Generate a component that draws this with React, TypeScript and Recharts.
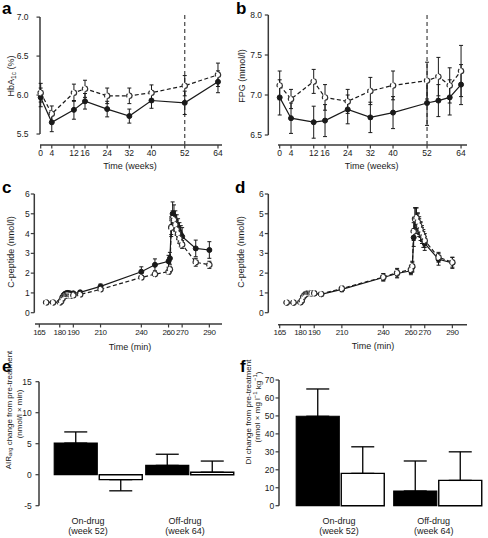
import React from "react";
import {
  LineChart,
  Line,
  BarChart,
  Bar,
  XAxis,
  YAxis,
  ErrorBar,
  ReferenceLine,
} from "recharts";

const FONT = "'Liberation Sans', Arial, Helvetica, sans-serif";
const INK = "#1a1a1a";
const AXIS = "#3a3a3a";

// a: HbA1c over 64 weeks
const weeksA = [0, 4, 12, 16, 24, 32, 40, 52, 64];
const hbaDrug = [5.97, 5.65, 5.81, 5.92, 5.82, 5.73, 5.93, 5.9, 6.17];
const hbaDrugErr = [0.12, 0.12, 0.12, 0.1, 0.1, 0.09, 0.1, 0.15, 0.14];
const hbaPlacebo = [6.03, 5.76, 6.03, 6.08, 5.99, 5.99, 6.03, 6.12, 6.26];
const hbaPlaceboErr = [0.12, 0.1, 0.11, 0.11, 0.1, 0.1, 0.1, 0.13, 0.15];

// b: fasting plasma glucose
const weeksB = [0, 4, 12, 16, 24, 32, 40, 52, 56, 60, 64];
const fpgDrug = [6.97, 6.71, 6.66, 6.68, 6.82, 6.72, 6.78, 6.9, 6.93, 6.97, 7.13];
const fpgDrugErr = [0.22, 0.19, 0.2, 0.2, 0.18, 0.19, 0.2, 0.28, 0.2, 0.22, 0.25];
const fpgPlacebo = [7.12, 6.95, 7.17, 6.97, 6.92, 7.05, 7.12, 7.18, 7.23, 7.12, 7.3];
const fpgPlaceboErr = [0.18, 0.12, 0.15, 0.16, 0.15, 0.17, 0.18, 0.23, 0.24, 0.22, 0.32];

// c, d: C-peptide during the clamp / arginine test
const minutes = [
  170, 175, 180, 181, 182, 183, 184, 185, 186, 187, 188, 190, 195, 210, 240, 250,
  260, 261, 262, 263, 264, 265, 266, 267, 268, 269, 270, 280, 290,
];
const cpepWk52Drug = [
  0.52, 0.52, 0.53, 0.62, 0.8, 0.9, 0.96, 0.99, 1.0, 0.98, 0.97, 0.98, 1.03, 1.33, 2.07, 2.42,
  2.6, 2.75, 4.35, 5.0, 4.9, 4.65, 4.45, 4.3, 4.1, 3.95, 3.85, 3.25, 3.17,
];
const cpepWk52DrugErr = [
  0.04, 0.04, 0.04, 0.05, 0.06, 0.07, 0.07, 0.07, 0.07, 0.07, 0.07, 0.07, 0.08, 0.12, 0.25, 0.3,
  0.3, 0.3, 0.5, 0.6, 0.55, 0.5, 0.5, 0.45, 0.45, 0.45, 0.45, 0.42, 0.42,
];
const cpepWk52Placebo = [
  0.52, 0.52, 0.52, 0.58, 0.72, 0.82, 0.86, 0.88, 0.88, 0.87, 0.86, 0.88, 0.92, 1.18, 1.78, 1.95,
  2.07, 2.2, 4.3, 4.75, 4.7, 4.45, 4.2, 4.0, 3.75, 3.55, 3.45, 2.55, 2.42,
];
const cpepWk52PlaceboErr = [
  0.03, 0.03, 0.03, 0.04, 0.05, 0.05, 0.05, 0.05, 0.05, 0.05, 0.05, 0.05, 0.06, 0.08, 0.1, 0.12,
  0.12, 0.15, 0.35, 0.4, 0.4, 0.35, 0.3, 0.3, 0.25, 0.22, 0.2, 0.2, 0.18,
];
const cpepWk64Drug = [
  0.5, 0.5, 0.52, 0.6, 0.78, 0.88, 0.95, 0.98, 0.99, 0.98, 0.97, 0.97, 0.93, 1.18, 1.78, 1.98,
  2.12, 2.3, 3.8, 4.7, 4.75, 4.5, 4.3, 4.1, 3.9, 3.7, 3.5, 2.7, 2.52,
];
const cpepWk64DrugErr = [
  0.04, 0.04, 0.04, 0.05, 0.06, 0.06, 0.06, 0.06, 0.06, 0.06, 0.06, 0.06, 0.08, 0.12, 0.18, 0.22,
  0.2, 0.25, 0.45, 0.6, 0.55, 0.5, 0.45, 0.45, 0.4, 0.4, 0.35, 0.3, 0.28,
];
const cpepWk64Placebo = [
  0.52, 0.52, 0.53, 0.62, 0.8, 0.9, 0.96, 0.99, 1.0, 0.99, 0.98, 0.98, 0.95, 1.22, 1.8, 2.02,
  2.18, 2.35, 4.1, 4.75, 4.8, 4.6, 4.4, 4.2, 4.0, 3.85, 3.65, 2.8, 2.55,
];
const cpepWk64PlaceboErr = [
  0.04, 0.04, 0.04, 0.05, 0.06, 0.06, 0.06, 0.06, 0.06, 0.06, 0.06, 0.06, 0.08, 0.12, 0.18, 0.22,
  0.2, 0.25, 0.45, 0.55, 0.5, 0.45, 0.45, 0.4, 0.4, 0.35, 0.35, 0.25, 0.25,
];
const minuteTicks = [165, 180, 190, 210, 240, 260, 270, 290];

// e, f: change from pre-treatment
const groups = ["On-drug", "Off-drug"];
const groupWeeks = ["(week 52)", "(week 64)"];
const airDrug = [5.1, 1.5];
const airDrugErr = [1.8, 1.8];
const airPlacebo = [-0.8, 0.4];
const airPlaceboErr = [1.8, 1.8];
const diDrug = [49.8, 8.2];
const diDrugErr = [15.2, 16.7];
const diPlacebo = [18.0, 14.1];
const diPlaceboErr = [14.8, 15.9];

type Row = { t: number; drug: number; drugErr: number; placebo: number; placeboErr: number };

function buildRows(ts: number[], d: number[], de: number[], p: number[], pe: number[]): Row[] {
  return ts.map((t, i) => ({ t, drug: d[i], drugErr: de[i], placebo: p[i], placeboErr: pe[i] }));
}

// bars grow away from zero, so the whisker only goes one way
function buildBars(d: number[], de: number[], p: number[], pe: number[]) {
  return groups.map((g, i) => ({
    g,
    drug: d[i],
    drugErr: d[i] >= 0 ? [0, de[i]] : [de[i], 0],
    placebo: p[i],
    placeboErr: p[i] >= 0 ? [0, pe[i]] : [pe[i], 0],
  }));
}

const tickText = { fontSize: 8.5, fill: INK, fontFamily: FONT };
const tickTextNarrow = { fontSize: 8, fill: INK, fontFamily: FONT, letterSpacing: -0.35 };
const tickMark = { stroke: AXIS, strokeWidth: 1.2 };

interface Margin {
  top: number;
  right: number;
  bottom: number;
  left: number;
}

interface CourseProps {
  left: number;
  top: number;
  width: number;
  height: number;
  margin: Margin;
  yWidth: number;
  xHeight: number;
  rows: Row[];
  xDomain: [number, number];
  xTicks: number[];
  xTick?: object;
  xLine: [number, number];
  yDomain: [number, number];
  yTicks: number[];
  yFmt?: (v: number) => string;
  yTickMargin: number;
  dashedAt?: number;
}

function Course(p: CourseProps) {
  const yLo = p.yTicks[0];
  const yHi = p.yTicks[p.yTicks.length - 1];
  return (
    <div style={{ position: "absolute", left: p.left, top: p.top }}>
      <LineChart width={p.width} height={p.height} data={p.rows} margin={p.margin}>
        <XAxis
          dataKey="t"
          type="number"
          domain={p.xDomain}
          allowDataOverflow
          ticks={p.xTicks}
          interval={0}
          axisLine={false}
          tickLine={tickMark}
          tickSize={3.5}
          tickMargin={1.5}
          height={p.xHeight}
          tick={p.xTick ?? tickText}
        />
        <YAxis
          type="number"
          domain={p.yDomain}
          allowDataOverflow
          ticks={p.yTicks}
          interval={0}
          tickFormatter={p.yFmt}
          axisLine={false}
          tickLine={tickMark}
          tickSize={3.5}
          tickMargin={p.yTickMargin}
          width={p.yWidth}
          tick={tickText}
        />
        <ReferenceLine
          segment={[
            { x: p.xDomain[0], y: yLo },
            { x: p.xDomain[0], y: yHi },
          ]}
          stroke={AXIS}
          strokeWidth={1.5}
          ifOverflow="visible"
        />
        <ReferenceLine
          segment={[
            { x: p.xLine[0], y: p.yDomain[0] },
            { x: p.xLine[1], y: p.yDomain[0] },
          ]}
          stroke={AXIS}
          strokeWidth={1.5}
          ifOverflow="visible"
        />
        {p.dashedAt !== undefined && (
          <ReferenceLine x={p.dashedAt} stroke="#444" strokeWidth={1.2} strokeDasharray="4 3" />
        )}
        <Line
          dataKey="drug"
          type="linear"
          stroke={INK}
          strokeWidth={1.2}
          dot={{ r: 2.5, fill: INK, stroke: INK, strokeWidth: 1, clipDot: false }}
          isAnimationActive={false}
        >
          <ErrorBar dataKey="drugErr" width={2} stroke={INK} strokeWidth={1} />
        </Line>
        <Line
          dataKey="placebo"
          type="linear"
          stroke={INK}
          strokeWidth={1.2}
          strokeDasharray="4 2.5"
          dot={{ r: 2.7, fill: "#fff", stroke: "#333", strokeWidth: 1.2, clipDot: false }}
          isAnimationActive={false}
        >
          <ErrorBar dataKey="placeboErr" width={2} stroke={INK} strokeWidth={1} />
        </Line>
      </LineChart>
    </div>
  );
}

function GroupTick(props: any) {
  const { x, y, payload, shifts } = props;
  const i = payload.index;
  const cx = x + shifts[i];
  return (
    <text x={cx} y={y} textAnchor="middle" fontSize={9} fill={INK} fontFamily={FONT}>
      <tspan x={cx} dy={8}>
        {groups[i]}
      </tspan>
      <tspan x={cx} dy={9.8}>
        {groupWeeks[i]}
      </tspan>
    </text>
  );
}

interface BarPanelProps {
  left: number;
  top: number;
  width: number;
  height: number;
  margin: Margin;
  rows: ReturnType<typeof buildBars>;
  yDomain: [number, number];
  yTicks: number[];
  yTickMargin: number;
  padLeft: number;
  plotWidth: number;
  xLine: [number, number];
  zeroLine?: [number, number];
  shifts: number[];
}

function BarPanel(p: BarPanelProps) {
  const yLo = p.yTicks[0];
  const yHi = p.yTicks[p.yTicks.length - 1];
  return (
    <div style={{ position: "absolute", left: p.left, top: p.top }}>
      <BarChart width={p.width} height={p.height} data={p.rows} margin={p.margin} barGap={2}>
        <XAxis
          dataKey="g"
          padding={{ left: p.padLeft, right: 0 }}
          axisLine={false}
          tickLine={false}
          tickSize={0}
          tickMargin={0}
          height={20}
          interval={0}
          tick={(tp: any) => <GroupTick {...tp} shifts={p.shifts} />}
        />
        <XAxis xAxisId="px" type="number" domain={[0, p.plotWidth]} allowDataOverflow hide />
        <YAxis
          type="number"
          domain={p.yDomain}
          allowDataOverflow
          ticks={p.yTicks}
          interval={0}
          axisLine={false}
          tickLine={tickMark}
          tickSize={3.5}
          tickMargin={p.yTickMargin}
          width={30}
          tick={tickText}
        />
        <ReferenceLine
          xAxisId="px"
          segment={[
            { x: 0, y: yLo },
            { x: 0, y: yHi },
          ]}
          stroke={AXIS}
          strokeWidth={1.5}
          ifOverflow="visible"
        />
        <ReferenceLine
          xAxisId="px"
          segment={[
            { x: p.xLine[0], y: p.yDomain[0] },
            { x: p.xLine[1], y: p.yDomain[0] },
          ]}
          stroke={AXIS}
          strokeWidth={1.5}
          ifOverflow="visible"
        />
        {p.zeroLine && (
          <ReferenceLine
            xAxisId="px"
            segment={[
              { x: p.zeroLine[0], y: 0 },
              { x: p.zeroLine[1], y: 0 },
            ]}
            stroke={INK}
            strokeWidth={1.2}
            ifOverflow="visible"
          />
        )}
        <Bar dataKey="drug" barSize={43} fill="#000" stroke="#000" strokeWidth={1.2} isAnimationActive={false}>
          <ErrorBar dataKey="drugErr" width={11.5} stroke="#000" strokeWidth={1.3} />
        </Bar>
        <Bar dataKey="placebo" barSize={43} fill="#fff" stroke="#000" strokeWidth={1.4} isAnimationActive={false}>
          <ErrorBar dataKey="placeboErr" width={11.5} stroke="#000" strokeWidth={1.3} />
        </Bar>
      </BarChart>
    </div>
  );
}

const fmt1 = (v: number) => v.toFixed(1);

export default function App() {
  const rowsA = buildRows(weeksA, hbaDrug, hbaDrugErr, hbaPlacebo, hbaPlaceboErr);
  const rowsB = buildRows(weeksB, fpgDrug, fpgDrugErr, fpgPlacebo, fpgPlaceboErr);
  const rowsC = buildRows(minutes, cpepWk52Drug, cpepWk52DrugErr, cpepWk52Placebo, cpepWk52PlaceboErr);
  const rowsD = buildRows(minutes, cpepWk64Drug, cpepWk64DrugErr, cpepWk64Placebo, cpepWk64PlaceboErr);
  const rowsE = buildBars(airDrug, airDrugErr, airPlacebo, airPlaceboErr);
  const rowsF = buildBars(diDrug, diDrugErr, diPlacebo, diPlaceboErr);

  const label = { fontSize: 9, fill: INK, fontFamily: FONT };
  const small = { fontSize: 8, fill: INK, fontFamily: FONT };
  const letter = { fontSize: 17, fontWeight: 700, fill: "#000", fontFamily: FONT };

  return (
    <div
      style={{
        position: "absolute",
        left: 0,
        top: 0,
        width: 488,
        height: 538,
        background: "#fff",
        overflow: "hidden",
        fontFamily: FONT,
      }}
    >
      <Course
        left={0}
        top={0}
        width={244}
        height={178}
        margin={{ top: 14, right: 22, left: 10, bottom: 5 }}
        yWidth={30}
        xHeight={28}
        rows={rowsA}
        xDomain={[-0.25, 65.45]}
        xTicks={weeksA}
        xLine={[-0.25, 65.45]}
        yDomain={[5.359, 7.04]}
        yTicks={[5.5, 6.0, 6.5, 7.0]}
        yFmt={fmt1}
        yTickMargin={8}
        dashedAt={52}
      />
      <Course
        left={245}
        top={0}
        width={243}
        height={178}
        margin={{ top: 14, right: 21, left: 3.3, bottom: 5 }}
        yWidth={20}
        xHeight={28}
        rows={rowsB}
        xDomain={[-4.02, 66.1]}
        xTicks={weeksA}
        xLine={[-0.6, 66.1]}
        yDomain={[6.375, 8.0125]}
        yTicks={[6.5, 7.0, 7.5, 8.0]}
        yFmt={fmt1}
        yTickMargin={2.8}
        dashedAt={52}
      />
      <Course
        left={0}
        top={175}
        width={244}
        height={180}
        margin={{ top: 19, right: 22, left: 9.3, bottom: 5 }}
        yWidth={25}
        xHeight={26}
        rows={rowsC}
        xDomain={[161.3, 299.3]}
        xTicks={minuteTicks}
        xTick={tickTextNarrow}
        xLine={[161.8, 299.3]}
        yDomain={[-0.571, 6]}
        yTicks={[0, 1, 2, 3, 4, 5, 6]}
        yTickMargin={1}
      />
      <Course
        left={245}
        top={175}
        width={243}
        height={180}
        margin={{ top: 19, right: 21, left: 3.3, bottom: 4.3 }}
        yWidth={20}
        xHeight={26}
        rows={rowsD}
        xDomain={[156.75, 300.6]}
        xTicks={minuteTicks}
        xTick={tickTextNarrow}
        xLine={[163.8, 300.6]}
        yDomain={[-0.607, 6]}
        yTicks={[0, 1, 2, 3, 4, 5, 6]}
        yTickMargin={1}
      />
      <BarPanel
        left={0}
        top={355}
        width={244}
        height={183}
        margin={{ top: 26.7, right: 8.75, left: 9, bottom: 2.3 }}
        rows={rowsE}
        yDomain={[-6.613, 15]}
        yTicks={[-5, 0, 5, 10, 15]}
        yTickMargin={3.8}
        padLeft={13.25}
        plotWidth={196.25}
        xLine={[10, 194]}
        zeroLine={[10, 196.25]}
        shifts={[-10, -4.5]}
      />
      <BarPanel
        left={245}
        top={355}
        width={243}
        height={183}
        margin={{ top: 25, right: 1.75, left: 4, bottom: 2 }}
        rows={rowsF}
        yDomain={[-5.735, 70]}
        yTicks={[0, 10, 20, 30, 40, 50, 60, 70]}
        yTickMargin={1.2}
        padLeft={12.25}
        plotWidth={207.25}
        xLine={[12.7, 208]}
        shifts={[-1, -3.8]}
      />

      <svg
        width={488}
        height={538}
        style={{ position: "absolute", left: 0, top: 0, pointerEvents: "none" }}
      >
        <text x={2} y={13.5} {...letter}>a</text>
        <text x={236} y={13.5} {...letter}>b</text>
        <text x={2} y={193} {...letter}>c</text>
        <text x={235} y={193} {...letter}>d</text>
        <text x={2} y={372} {...letter}>e</text>
        <text x={240} y={372} {...letter}>f</text>

        <text x={130} y={165.5} textAnchor="middle" dominantBaseline="central" {...label}>Time (weeks)</text>
        <text x={371.7} y={165.5} textAnchor="middle" dominantBaseline="central" {...label}>Time (weeks)</text>
        <text x={130} y={346.5} textAnchor="middle" dominantBaseline="central" {...label}>Time (min)</text>
        <text x={373} y={346} textAnchor="middle" dominantBaseline="central" {...label}>Time (min)</text>

        <text x={10.5} y={76} transform="rotate(-90 10.5 76)" textAnchor="middle" dominantBaseline="central" {...label}>
          HbA<tspan dy={2} fontSize={6.5}>1c</tspan><tspan dy={-2}> (%)</tspan>
        </text>
        <text x={242} y={76} transform="rotate(-90 242 76)" textAnchor="middle" dominantBaseline="central" {...label}>
          FPG (mmol/l)
        </text>
        <text x={10.5} y={252} transform="rotate(-90 10.5 252)" textAnchor="middle" dominantBaseline="central" {...label}>
          C-peptide (nmol/l)
        </text>
        <text x={241} y={252} transform="rotate(-90 241 252)" textAnchor="middle" dominantBaseline="central" {...label}>
          C-peptide (nmol/l)
        </text>

        <text x={8.5} y={410} transform="rotate(-90 8.5 410)" textAnchor="middle" dominantBaseline="central" {...small}>
          AIR<tspan dy={1.8} fontSize={5.8}>arg</tspan><tspan dy={-1.8}> change from pre-treatment</tspan>
        </text>
        <text x={19} y={414} transform="rotate(-90 19 414)" textAnchor="middle" dominantBaseline="central" {...small}>
          (nmol/l × min)
        </text>
        <text x={248} y={412} transform="rotate(-90 248 412)" textAnchor="middle" dominantBaseline="central" {...small}>
          DI change from pre-treatment
        </text>
        <text x={257.5} y={407} transform="rotate(-90 257.5 407)" textAnchor="middle" dominantBaseline="central" {...small}>
          (nmol × mg l<tspan dy={-2.8} fontSize={5.8}>−1</tspan><tspan dy={2.8}> kg</tspan><tspan dy={-2.8} fontSize={5.8}>−1</tspan><tspan dy={2.8}>)</tspan>
        </text>
      </svg>
    </div>
  );
}
